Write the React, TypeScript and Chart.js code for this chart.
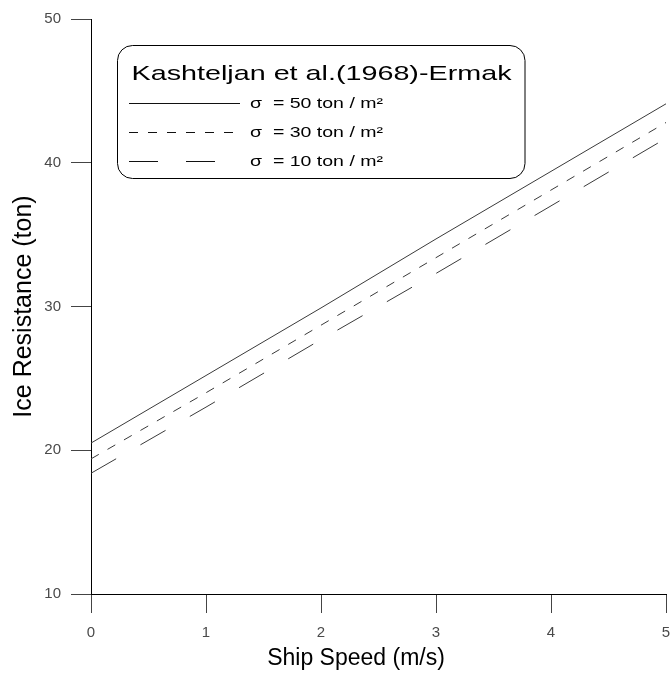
import React, { useEffect, useRef } from "react";
import { Chart, registerables } from "chart.js";

Chart.register(...registerables);

const speeds = [0, 1, 2, 3, 4, 5];
const sigma50 = [20.5, 25.2, 29.9, 34.7, 39.4, 44.1];
const sigma30 = [19.4, 24.0, 28.7, 33.4, 38.1, 42.8];
const sigma10 = [18.4, 23.0, 27.7, 32.3, 37.0, 41.7];

const legendTitle = "Kashteljan et al.(1968)-Ermak";
const seriesLabels = ["σ  = 50 ton / m²", "σ  = 30 ton / m²", "σ  = 10 ton / m²"];
const xTitle = "Ship Speed (m/s)";
const yTitle = "Ice Resistance (ton)";

const FONT = "'Liberation Sans', Arial, sans-serif";
const LINE_COLOR = "#3a3a3a";
const dashes = [[], [9, 10], [29, 28]];

const legendPlugin = {
  id: "boxLegend",
  afterDraw(chart: any) {
    const ctx = chart.ctx as CanvasRenderingContext2D;
    ctx.save();
    // x axis title (drawn here so it can sit where the original has it)
    ctx.fillStyle = "#000";
    ctx.font = `23px ${FONT}`;
    ctx.textAlign = "center";
    ctx.textBaseline = "alphabetic";
    ctx.fillText(xTitle, 356, 665);

    // rounded box
    const bx = 117.5, by = 45.5, bw = 407.5, bh = 133, r = 15;
    ctx.beginPath();
    ctx.moveTo(bx + r, by);
    ctx.lineTo(bx + bw - r, by);
    ctx.arcTo(bx + bw, by, bx + bw, by + r, r);
    ctx.lineTo(bx + bw, by + bh - r);
    ctx.arcTo(bx + bw, by + bh, bx + bw - r, by + bh, r);
    ctx.lineTo(bx + r, by + bh);
    ctx.arcTo(bx, by + bh, bx, by + bh - r, r);
    ctx.lineTo(bx, by + r);
    ctx.arcTo(bx, by, bx + r, by, r);
    ctx.closePath();
    ctx.fillStyle = "#fff";
    ctx.fill();
    ctx.strokeStyle = "#000";
    ctx.lineWidth = 1;
    ctx.stroke();

    // title (stretched horizontally)
    ctx.fillStyle = "#000";
    ctx.textBaseline = "alphabetic";
    ctx.textAlign = "left";
    ctx.font = `21px ${FONT}`;
    const w = ctx.measureText(legendTitle).width;
    ctx.save();
    ctx.translate(131.5, 80);
    ctx.scale(380 / w, 1);
    ctx.fillText(legendTitle, 0, 0);
    ctx.restore();

    const rowsY = [103.5, 132.5, 161.5];
    chart.data.datasets.forEach((ds: any, i: number) => {
      const y = rowsY[i];
      ctx.beginPath();
      ctx.setLineDash(dashes[i]);
      ctx.strokeStyle = "#111";
      ctx.lineWidth = 1;
      ctx.moveTo(129, y);
      ctx.lineTo(240, y);
      ctx.stroke();
      ctx.setLineDash([]);
      ctx.font = `14px ${FONT}`;
      ctx.textBaseline = "middle";
      const lw = ctx.measureText(seriesLabels[i]).width;
      ctx.save();
      ctx.translate(250, y + 1);
      ctx.scale(133 / lw, 1);
      ctx.fillStyle = "#000";
      ctx.fillText(seriesLabels[i], 0, 0);
      ctx.restore();
    });
    ctx.restore();
  },
};

export default function App() {
  const ref = useRef<HTMLCanvasElement | null>(null);
  useEffect(() => {
    if (!ref.current) return;
    const mk = (vals: number[]) => speeds.map((s, i) => ({ x: s, y: vals[i] }));
    const chart = new Chart(ref.current, {
      type: "line",
      data: {
        datasets: [
          { label: seriesLabels[0], data: mk(sigma50), borderDash: dashes[0] },
          { label: seriesLabels[1], data: mk(sigma30), borderDash: dashes[1] },
          { label: seriesLabels[2], data: mk(sigma10), borderDash: dashes[2] },
        ].map((d) => ({
          ...d,
          borderColor: LINE_COLOR,
          borderWidth: 1,
          pointRadius: 0,
          tension: 0,
          fill: false,
        })),
      },
      options: {
        responsive: false,
        animation: false,
        devicePixelRatio: 1,
        layout: { padding: { top: 19, right: 4, left: 0, bottom: 0 } },
        plugins: { legend: { display: false }, tooltip: { enabled: false } },
        scales: {
          x: {
            type: "linear",
            min: 0,
            max: 5,
            afterFit: (s: any) => {
              s.height = 81;
              s.paddingLeft = 0;
              s.paddingRight = 0;
            },
            ticks: {
              stepSize: 1,
              padding: 11,
              color: "#4a4a4a",
              font: { family: FONT, size: 15 },
            },
            grid: { drawOnChartArea: false, drawTicks: true, tickLength: 19, color: "#444", lineWidth: 1 },
            border: { display: true, color: "#000", width: 1 },
            title: { display: false, text: xTitle },
          },
          y: {
            type: "linear",
            min: 10,
            max: 50,
            afterFit: (s: any) => {
              s.width = 91;
              s.paddingTop = 0;
              s.paddingBottom = 0;
            },
            ticks: {
              stepSize: 10,
              padding: 10,
              color: "#4a4a4a",
              font: { family: FONT, size: 15 },
            },
            grid: { drawOnChartArea: false, drawTicks: true, tickLength: 20, color: "#444", lineWidth: 1 },
            border: { display: true, color: "#000", width: 1 },
            title: {
              display: true,
              text: yTitle,
              color: "#000",
              font: { family: FONT, size: 25 },
              padding: { top: 9, bottom: 0 },
            },
          },
        },
      },
      plugins: [legendPlugin],
    } as any);
    return () => chart.destroy();
  }, []);
  return (
    <div style={{ position: "fixed", left: 0, top: 0, width: 670, height: 675, background: "#fff" }}>
      <canvas ref={ref} width={670} height={675} style={{ display: "block", width: 670, height: 675 }} />
    </div>
  );
}
